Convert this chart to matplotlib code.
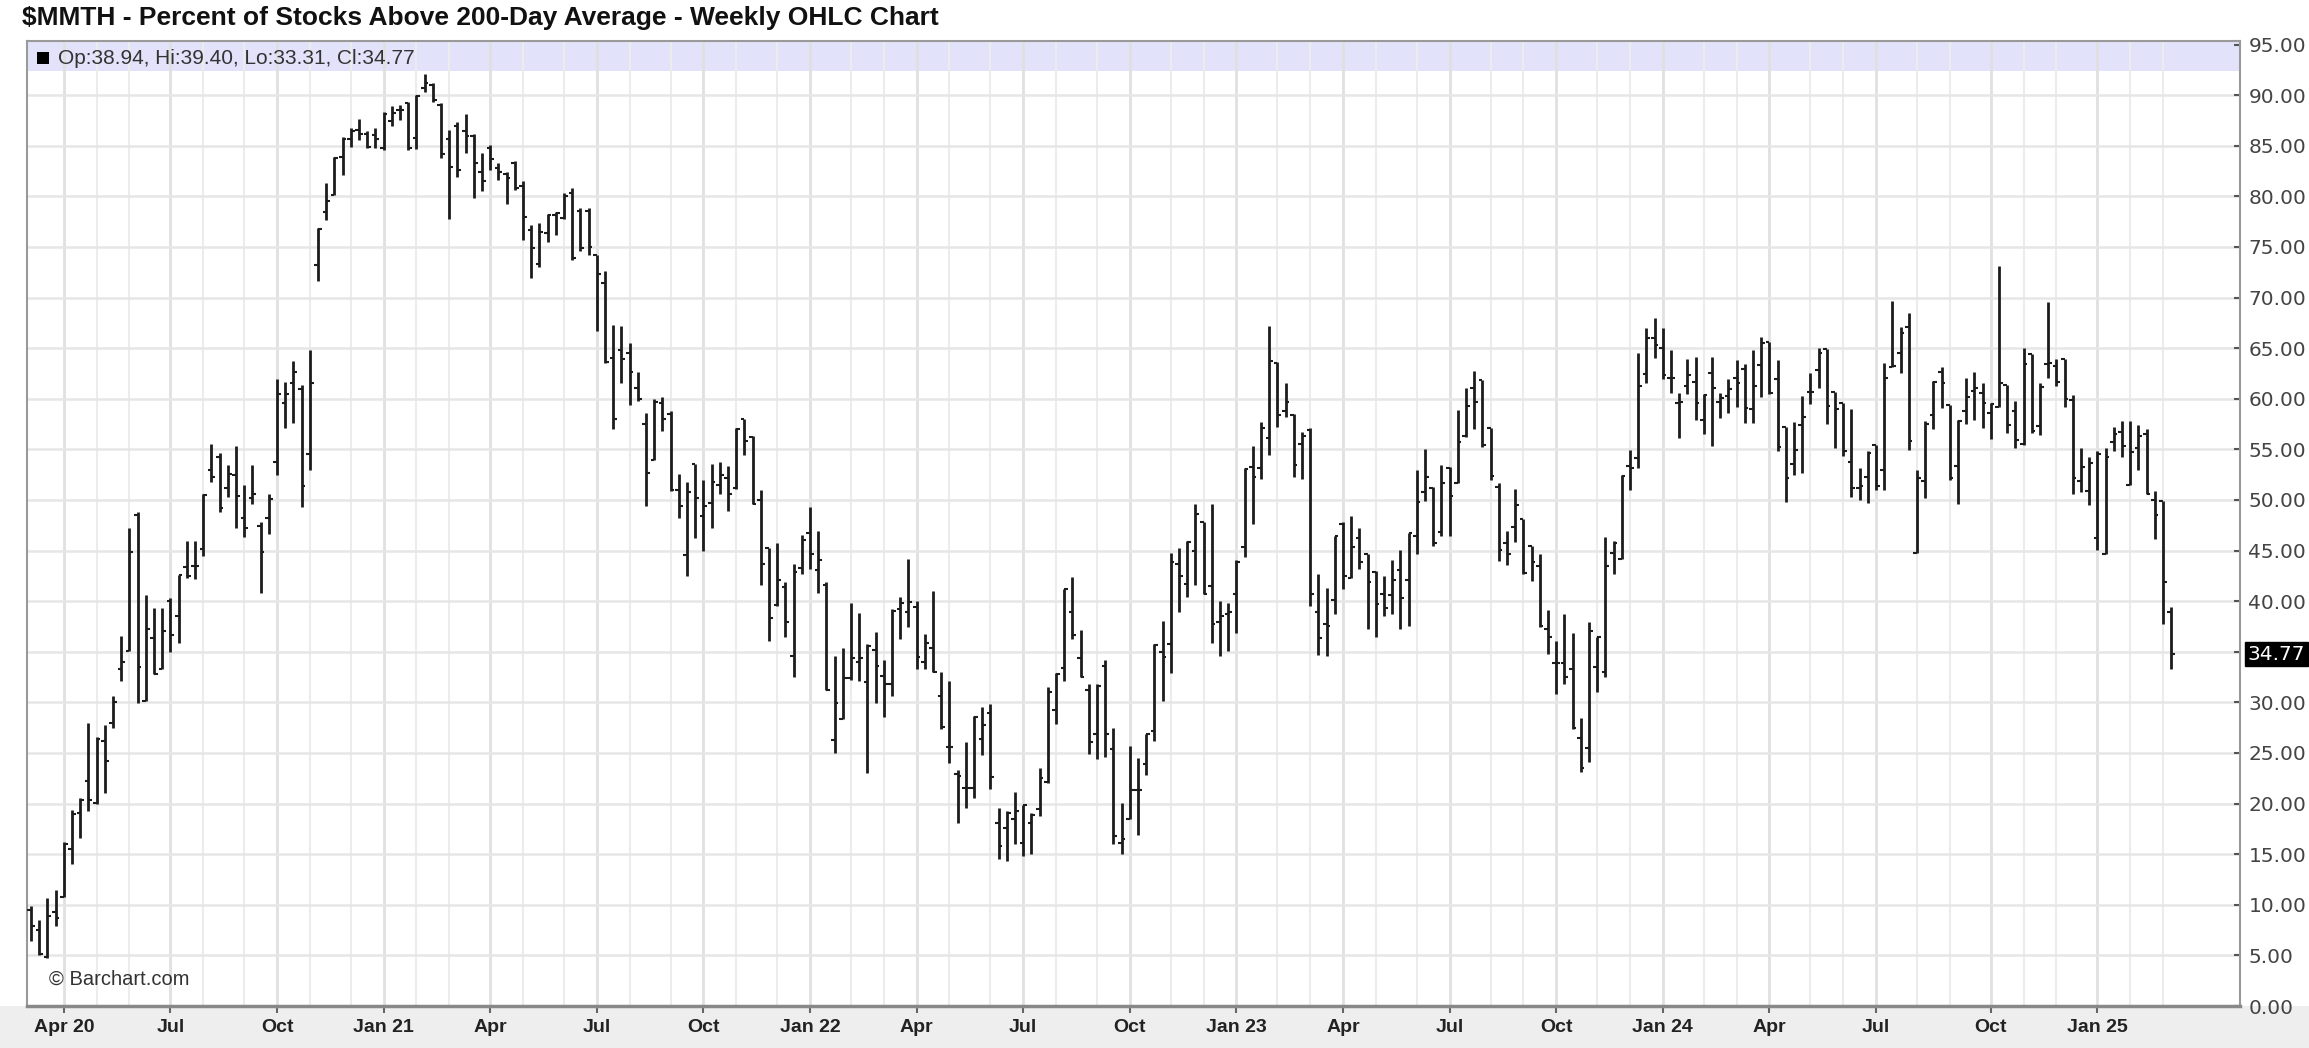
import numpy as np
import pandas as pd
import matplotlib
matplotlib.use("Agg")
import matplotlib.pyplot as plt
from matplotlib.patches import Rectangle

# weekly OHLC of $MMTH, first week starts 2020-03-09
first_week = "2020-03-09"

opens = [
    9.5, 7.5, 4.8, 9.3, 10.8, 15.5, 19.1, 22.2, 20.1, 26.2,
    28.0, 33.3, 35.1, 48.5, 30.1, 36.4, 33.3, 40.0, 38.5, 43.4,
    43.5, 45.2, 53.0, 54.2, 51.2, 52.5, 48.2, 50.2, 47.4, 48.2,
    53.8, 59.6, 61.6, 61.0, 54.5, 73.2, 78.5, 80.1, 83.9, 85.7,
    86.6, 86.2, 86.1, 84.8, 87.4, 88.5, 89.2, 85.8, 90.7, 91.0,
    89.0, 85.7, 87.0, 86.5, 86.0, 82.4, 84.8, 82.8, 82.2, 83.3,
    81.0, 76.7, 73.3, 76.4, 78.2, 77.9, 80.3, 78.6, 78.6, 74.2,
    71.4, 64.0, 64.8, 64.5, 61.1, 57.5, 53.9, 59.6, 58.5, 51.0,
    44.6, 53.6, 48.4, 49.7, 51.5, 52.2, 51.2, 58.0, 56.2, 50.0,
    45.3, 39.6, 41.4, 34.6, 43.3, 46.7, 43.1, 41.6, 26.3, 28.4,
    32.4, 34.0, 32.0, 35.2, 32.6, 31.8, 39.2, 38.9, 39.4, 34.0,
    35.4, 30.6, 25.6, 22.9, 21.5, 21.5, 26.4, 29.0, 18.1, 17.6,
    18.5, 16.1, 18.1, 19.5, 22.1, 29.2, 33.4, 38.9, 34.4, 31.2,
    26.9, 33.6, 25.4, 16.1, 18.5, 21.3, 23.9, 27.2, 35.0, 35.8,
    43.7, 41.7, 45.0, 47.8, 41.5, 37.9, 38.7, 40.7, 45.4, 53.3,
    53.2, 56.1, 63.5, 58.8, 58.4, 55.5, 56.9, 38.9, 37.7, 40.1,
    47.6, 42.3, 46.2, 44.7, 42.9, 40.7, 40.6, 43.1, 42.1, 46.4,
    50.8, 51.2, 46.8, 53.2, 51.7, 56.3, 61.1, 61.9, 57.1, 51.3,
    45.7, 47.3, 48.1, 45.5, 43.5, 37.3, 33.9, 33.9, 33.3, 26.5,
    25.5, 33.5, 33.0, 44.8, 44.2, 53.4, 54.1, 62.4, 66.0, 65.0,
    62.1, 59.6, 61.3, 61.7, 57.9, 62.5, 59.7, 60.3, 62.1, 62.9,
    59.0, 63.3, 65.6, 62.0, 57.2, 53.6, 57.4, 60.7, 62.8, 64.9,
    60.7, 59.6, 53.8, 51.2, 52.3, 55.4, 53.0, 63.1, 64.5, 67.1,
    44.8, 51.9, 58.4, 62.6, 59.4, 53.4, 58.8, 60.8, 60.6, 58.6,
    59.2, 61.4, 58.8, 55.5, 64.4, 57.3, 63.4, 63.2, 63.9, 59.9,
    51.9, 50.9, 46.2, 44.7, 55.7, 56.7, 51.5, 55.1, 56.5, 50.0,
    49.9, 38.94,
]
highs = [
    9.9, 8.5, 10.7, 11.5, 16.2, 19.4, 20.6, 28.0, 26.6, 27.8,
    30.6, 36.6, 47.2, 48.8, 40.6, 39.3, 39.3, 40.3, 42.6, 45.9,
    45.9, 50.6, 55.5, 54.6, 53.5, 55.3, 51.5, 53.5, 47.8, 50.6,
    62.0, 61.7, 63.7, 61.4, 64.8, 76.9, 81.3, 83.9, 85.9, 86.8,
    87.6, 86.5, 86.8, 88.3, 88.9, 89.0, 89.3, 90.0, 92.1, 91.2,
    89.2, 86.6, 87.3, 88.1, 86.2, 84.3, 85.1, 83.3, 82.4, 83.5,
    81.5, 77.2, 77.4, 78.3, 78.5, 80.3, 80.8, 78.8, 78.8, 74.2,
    72.6, 67.3, 67.2, 65.5, 62.6, 58.6, 60.0, 60.2, 58.8, 52.6,
    51.8, 53.6, 52.0, 53.6, 53.8, 53.4, 57.1, 58.0, 56.3, 51.0,
    45.3, 45.7, 41.9, 43.7, 46.5, 49.3, 46.9, 41.9, 34.6, 35.4,
    39.8, 38.8, 35.8, 37.0, 34.2, 39.2, 40.4, 44.2, 40.0, 36.8,
    41.0, 33.0, 32.1, 23.3, 26.1, 28.7, 29.5, 29.8, 19.6, 19.3,
    21.1, 19.9, 19.1, 23.5, 31.5, 32.9, 41.2, 42.4, 37.2, 31.8,
    31.8, 34.2, 27.5, 20.1, 25.7, 24.5, 26.9, 35.8, 38.0, 44.8,
    45.3, 45.9, 49.6, 47.8, 49.6, 40.0, 39.8, 44.1, 53.2, 55.3,
    57.7, 67.2, 63.6, 61.6, 58.5, 56.7, 57.1, 42.7, 41.3, 46.4,
    47.8, 48.4, 47.2, 44.7, 43.0, 42.5, 44.1, 45.1, 46.7, 53.0,
    55.0, 51.3, 53.5, 53.3, 58.9, 61.1, 62.7, 61.9, 57.1, 51.7,
    46.9, 51.1, 48.1, 45.5, 44.7, 39.1, 36.1, 38.7, 36.9, 28.5,
    37.9, 36.5, 46.3, 45.9, 52.5, 54.9, 64.5, 67.0, 68.0, 67.0,
    64.8, 60.6, 63.9, 64.1, 60.5, 64.1, 60.6, 62.0, 63.8, 63.4,
    64.8, 66.1, 65.6, 63.8, 57.2, 57.7, 60.3, 62.5, 65.0, 64.9,
    60.7, 59.6, 59.0, 53.2, 54.8, 55.4, 63.5, 69.7, 67.1, 68.5,
    53.0, 57.8, 61.8, 63.1, 59.4, 57.9, 62.1, 62.6, 61.6, 59.6,
    73.1, 61.4, 59.8, 65.0, 64.4, 61.6, 69.6, 63.9, 63.9, 60.4,
    55.1, 54.2, 54.8, 55.1, 57.2, 57.8, 57.8, 57.4, 57.0, 50.9,
    49.9, 39.40,
]
lows = [
    6.4, 5.0, 4.7, 7.9, 10.8, 14.0, 16.6, 19.3, 20.0, 21.0,
    27.5, 32.1, 35.1, 29.9, 30.1, 32.8, 33.3, 35.0, 35.9, 42.3,
    42.2, 44.5, 51.8, 48.8, 50.3, 47.2, 46.3, 49.6, 40.8, 46.6,
    52.5, 57.1, 57.6, 49.3, 53.0, 71.6, 77.7, 80.1, 82.1, 84.9,
    85.6, 84.8, 84.8, 84.6, 87.0, 87.5, 84.6, 84.7, 90.3, 89.3,
    83.8, 77.8, 81.9, 84.3, 79.8, 80.5, 82.6, 81.6, 79.2, 80.6,
    75.7, 71.9, 73.0, 75.5, 76.2, 77.8, 73.7, 74.6, 74.2, 66.7,
    63.5, 57.0, 61.6, 59.4, 59.8, 49.4, 53.9, 56.8, 50.9, 48.2,
    42.5, 46.2, 45.0, 47.2, 50.6, 48.9, 51.1, 54.4, 49.6, 41.6,
    36.1, 39.5, 36.5, 32.5, 42.7, 43.2, 40.8, 31.2, 25.0, 28.4,
    32.2, 32.1, 23.0, 29.9, 28.6, 30.6, 36.3, 37.4, 33.3, 33.3,
    33.0, 27.4, 24.0, 18.1, 19.6, 20.6, 24.8, 21.4, 14.5, 14.3,
    16.0, 14.8, 15.0, 18.8, 22.0, 27.9, 32.1, 36.3, 32.5, 24.9,
    24.4, 24.6, 16.0, 15.0, 18.5, 16.9, 22.8, 26.2, 30.1, 32.9,
    38.9, 40.4, 41.6, 40.7, 35.9, 34.6, 35.1, 36.9, 44.4, 47.6,
    52.1, 54.4, 57.2, 58.2, 52.3, 52.1, 39.5, 34.7, 34.6, 38.7,
    41.2, 42.3, 43.2, 37.3, 36.5, 38.5, 38.7, 37.3, 37.5, 44.7,
    49.9, 45.5, 46.4, 46.4, 51.7, 56.2, 57.0, 55.2, 52.0, 44.0,
    43.6, 45.8, 42.7, 42.0, 37.4, 34.8, 30.8, 31.8, 27.4, 23.1,
    24.1, 31.0, 32.5, 42.7, 44.2, 51.0, 53.2, 61.6, 64.0, 62.0,
    60.6, 56.1, 60.5, 57.9, 56.5, 55.3, 58.1, 58.6, 59.2, 57.6,
    57.6, 60.2, 60.5, 54.8, 49.8, 52.5, 52.7, 59.5, 61.1, 57.5,
    55.1, 54.3, 50.3, 50.0, 49.7, 51.0, 51.0, 63.1, 62.5, 54.9,
    44.8, 50.2, 57.0, 59.1, 52.0, 49.6, 57.5, 57.9, 57.1, 56.0,
    59.2, 56.6, 55.1, 55.4, 56.6, 56.4, 62.1, 61.3, 59.2, 50.6,
    50.8, 49.5, 45.1, 44.7, 54.8, 54.2, 51.5, 53.0, 50.6, 46.1,
    37.7, 33.31,
]
closes = [
    7.9, 5.1, 8.9, 8.7, 16.0, 19.0, 20.4, 20.4, 26.4, 24.2,
    30.0, 34.0, 44.9, 33.5, 37.3, 32.8, 37.1, 36.7, 42.6, 42.5,
    43.5, 50.5, 52.3, 49.2, 52.6, 50.4, 47.2, 50.6, 44.9, 50.1,
    60.5, 60.5, 62.6, 51.4, 61.6, 76.8, 79.5, 83.8, 85.7, 86.5,
    86.2, 84.9, 85.7, 88.1, 88.2, 88.5, 84.8, 89.9, 91.2, 89.5,
    84.2, 82.9, 82.6, 86.0, 83.3, 81.5, 83.7, 82.4, 81.8, 80.8,
    78.0, 74.9, 76.5, 78.2, 78.4, 80.0, 73.9, 74.9, 75.0, 72.3,
    63.6, 58.0, 63.9, 62.6, 60.0, 52.7, 59.7, 58.0, 51.0, 49.4,
    50.8, 50.2, 49.4, 51.8, 52.5, 50.6, 57.0, 55.8, 49.6, 43.7,
    38.3, 42.1, 37.9, 42.9, 46.0, 44.7, 44.1, 31.2, 29.9, 32.4,
    34.4, 34.4, 35.6, 33.6, 31.8, 39.0, 39.8, 39.9, 34.5, 35.9,
    33.0, 27.6, 25.6, 22.7, 21.5, 28.6, 27.8, 22.6, 15.8, 19.1,
    19.3, 19.9, 18.9, 22.5, 31.0, 32.8, 41.2, 36.7, 32.5, 26.1,
    31.6, 26.9, 16.8, 16.5, 21.3, 21.3, 26.9, 35.7, 34.5, 43.9,
    42.5, 45.8, 48.6, 40.7, 37.7, 38.5, 38.9, 43.9, 53.1, 52.3,
    57.1, 63.7, 58.4, 59.7, 53.5, 56.3, 40.7, 36.4, 37.5, 46.4,
    42.5, 45.4, 43.9, 41.9, 39.7, 39.3, 42.1, 40.3, 46.7, 49.8,
    52.3, 45.7, 51.7, 50.4, 55.7, 59.3, 59.7, 55.4, 52.4, 45.1,
    44.7, 49.5, 42.8, 43.9, 37.5, 36.5, 33.9, 32.5, 27.5, 23.5,
    37.1, 36.5, 43.5, 45.7, 52.4, 53.2, 61.3, 66.0, 65.3, 62.3,
    62.1, 59.7, 62.3, 59.6, 60.4, 61.1, 60.1, 61.0, 61.6, 59.1,
    61.3, 65.5, 60.6, 55.2, 52.2, 54.9, 58.2, 60.7, 64.5, 59.3,
    59.0, 54.8, 51.2, 51.4, 54.6, 51.4, 62.1, 63.2, 66.5, 55.8,
    52.2, 57.5, 61.7, 61.6, 52.2, 57.8, 60.2, 61.1, 59.6, 59.5,
    61.6, 57.4, 55.9, 63.4, 56.8, 61.2, 63.5, 61.7, 60.0, 52.2,
    53.3, 53.7, 54.5, 54.2, 56.5, 55.3, 54.7, 56.3, 50.6, 48.5,
    41.9, 34.77,
]

title = "$MMTH - Percent of Stocks Above 200-Day Average - Weekly OHLC Chart"
sans = ["Liberation Sans", "DejaVu Sans"]

weeks = pd.date_range(first_week, periods=len(closes), freq="7D")
x = np.arange(len(closes))

W, H = 2309, 1048
fig = plt.figure(figsize=(W / 100, H / 100), dpi=100)
fig.patch.set_facecolor("white")
# grey strip under the plot
fig.patches.append(Rectangle((0, 0), 1, 42 / H, transform=fig.transFigure,
                             facecolor="#eeeeee", edgecolor="none", zorder=-5))

ax = fig.add_axes([27 / W, 1 - 1006 / H, (2240 - 27) / W, (1006 - 41) / H])
ax.set_xlim(-0.5, 269.4)
ax.set_ylim(0, 95.35)

# lavender header band
ax.axhspan(92.35, 95.35, color="#e2e2fa", zorder=0, lw=0)

# month grid lines at first weekly bar of each month
month_start = [i for i in range(1, len(weeks)) if weeks[i].month != weeks[i - 1].month]
for i in month_start:
    if weeks[i].month in (1, 4, 7, 10):
        ax.axvline(i, color="#e0e0e0", lw=2.0, zorder=1)
    else:
        ax.axvline(i, color="#ececec", lw=1.5, zorder=1)
for v in range(5, 95, 5):
    ax.axhline(v, color="#e6e6e6", lw=1.8, zorder=1)

# OHLC bars
bar_col = "#1c1c1c"
tw = 0.45
ax.vlines(x, lows, highs, color=bar_col, lw=2.0, zorder=3)
ax.hlines(opens, x - tw, x, color=bar_col, lw=1.5, zorder=3)
ax.hlines(closes, x, x + tw, color=bar_col, lw=1.5, zorder=3)

# x ticks at quarter starts
qticks = [i for i in month_start if weeks[i].month in (1, 4, 7, 10)]
qlabels = []
for n, i in enumerate(qticks):
    d = weeks[i]
    lab = d.strftime("%b")
    if d.month == 1 or n == 0:
        lab += d.strftime(" %y")
    qlabels.append(lab)
ax.set_xticks(qticks)
ax.set_xticklabels(qlabels, fontsize=14, fontweight="bold", family=sans, color="#222222")
ax.tick_params(axis="x", direction="out", length=5, width=1.5, color="#666666", pad=4)

# y ticks on the right
yt = list(range(0, 96, 5))
ax.yaxis.tick_right()
ax.set_yticks(yt)
ax.set_yticklabels(["" if v == 35 else "%.2f" % v for v in yt], fontsize=14.5, color="#444444")
ax.tick_params(axis="y", direction="in", length=4, width=1.5, color="#555555", pad=6)

for side in ["top", "left", "right"]:
    ax.spines[side].set_color("#9a9a9a")
    ax.spines[side].set_linewidth(1.5)
ax.spines["bottom"].set_color("#888888")
ax.spines["bottom"].set_linewidth(2.5)

# last price marker
last = closes[-1]
ax.text(1.0035, last, "%.2f" % last, transform=ax.get_yaxis_transform(), ha="left", va="center",
        fontsize=14.5, color="white", zorder=6,
        bbox=dict(boxstyle="square,pad=0.12", facecolor="black", edgecolor="black"))

# titles and annotations
fig.text(22 / W, 1 - 18 / H, title, fontsize=19, fontweight="bold", family=sans,
         color="#111111", va="center", ha="left")
fig.patches.append(Rectangle((37 / W, 1 - 64 / H), 12 / W, 12 / H, transform=fig.transFigure,
                             facecolor="black", edgecolor="none", zorder=5))
fig.text(58 / W, 1 - 58 / H, "Op:%.2f, Hi:%.2f, Lo:%.2f, Cl:%.2f" % (opens[-1], highs[-1], lows[-1], closes[-1]),
         fontsize=15, family=sans, color="#333333", va="center", ha="left")
fig.text(49 / W, 1 - 979 / H, "\u00a9 Barchart.com", fontsize=14.5, family=sans,
         color="#333333", va="center", ha="left")

fig.savefig("out.png", dpi=100)
